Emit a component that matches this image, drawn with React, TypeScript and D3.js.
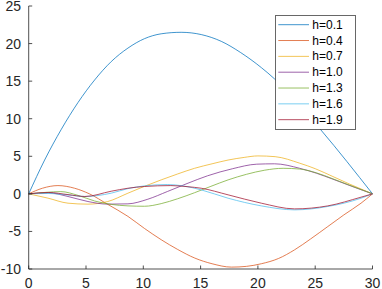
import React from "react";
import * as d3 from "d3";

const labels = ["h=0.1", "h=0.4", "h=0.7", "h=1.0", "h=1.3", "h=1.6", "h=1.9"];
const colors = ["#0072BD", "#D95319", "#EDB120", "#7E2F8E", "#77AC30", "#4DBEEE", "#A2142F"];

const h01X = [0, 1.39, 2.85, 4.3, 5.75, 7.2, 8.66, 10.1, 11.56, 13.3, 15.05, 16.8, 18.5, 20.3, 21.45, 23.5, 25.5, 30];
const h01Y = [0, 4.5, 8.6, 12.15, 15.15, 17.6, 19.4, 20.65, 21.3, 21.5, 21.2, 20.3, 18.8, 16.8, 15.3, 12.0, 8.5, 0];

const h04X = [0, 1.2, 2.55, 4, 5.3, 6.9, 8.66, 10.1, 11.56, 13, 14.5, 16, 17.7, 19, 20.3, 21.8, 23.2, 24.6, 26.1, 27.5, 29, 30];
const h04Y = [0, 0.75, 1.1, 0.75, 0, -1.4, -3.0, -4.6, -6.1, -7.4, -8.55, -9.3, -9.75, -9.65, -9.3, -8.6, -7.45, -6.0, -4.35, -2.8, -1.24, 0];

const h07X = [0, 1.68, 3.43, 5.17, 6.9, 8.66, 10.1, 11.56, 13, 14.47, 16, 17.4, 18.8, 20, 21.5, 23.65, 25, 26.55, 28, 30];
const h07Y = [0, -0.57, -1.24, -1.37, -1.02, 0.09, 1.0, 1.86, 2.65, 3.4, 4.0, 4.5, 4.85, 5.05, 4.95, 4.08, 3.35, 2.3, 1.3, 0];

const h10X = [0, 1.68, 3.43, 5.17, 6.9, 8.66, 10.4, 12.1, 13.9, 15.6, 17.8, 19.9, 21.45, 23.65, 25.1, 26.55, 28.2, 30];
const h10Y = [0, 0.15, -0.35, -1.02, -1.37, -1.33, -0.71, 0.31, 1.42, 2.4, 3.35, 3.95, 4.0, 3.4, 2.75, 1.95, 1.0, 0];

const h13X = [0, 1.5, 2.8, 4.3, 5.75, 7.2, 8.66, 10.1, 11.56, 13, 14.47, 15.9, 17.4, 19, 20.6, 22.2, 23.65, 25.1, 26.55, 28, 30];
const h13Y = [0, 0.2, 0.3, -0.2, -0.95, -1.4, -1.6, -1.65, -1.3, -0.65, 0.15, 1.0, 1.86, 2.6, 3.15, 3.4, 3.3, 2.8, 2.0, 1.15, 0];

const h16X = [0, 1.68, 3.43, 4.9, 7.2, 8.66, 10.1, 12.1, 13.5, 15.05, 17.4, 20.3, 23.2, 26.1, 29, 30];
const h16Y = [0, 0.05, -0.15, -0.35, 0.09, 0.7, 1.06, 1.24, 1.05, 0.53, -0.58, -1.6, -2.13, -1.68, -0.58, 0];

const h19X = [0, 1.74, 3.43, 4.9, 7.2, 8.66, 10.1, 12.4, 13.9, 15.05, 17.4, 20.3, 23.2, 26.1, 29, 30];
const h19Y = [0, 0.18, -0.1, -0.35, 0.35, 0.75, 0.98, 1.1, 0.95, 0.75, -0.13, -1.24, -2.0, -1.6, -0.44, 0];

const seriesX = [h01X, h04X, h07X, h10X, h13X, h16X, h19X];
const seriesY = [h01Y, h04Y, h07Y, h10Y, h13Y, h16Y, h19Y];

const xTicks = [0, 5, 10, 15, 20, 25, 30];
const yTicks = [-10, -5, 0, 5, 10, 15, 20, 25];

const W = 382;
const H = 289;
const FONT = "'Liberation Sans', Arial, Helvetica, sans-serif";
const AX = "#262626";

export default function App() {
  const x = d3.scaleLinear().domain([0, 30]).range([28.7, 372.5]);
  const y = d3.scaleLinear().domain([-10, 25]).range([269, 6]);
  const line = d3
    .line<[number, number]>()
    .x((d) => x(d[0]))
    .y((d) => y(d[1]))
    .curve(d3.curveMonotoneX);

  const lx0 = 275.5, ly0 = 15.5, lw = 80, lh = 114;
  const rowY = (i: number) => 24.7 + i * 15.83;

  return (
    <svg
      width={W}
      height={H}
      style={{ position: "absolute", left: 0, top: 0, background: "#fff" }}
      fontFamily={FONT}
    >
      <rect x={0} y={0} width={W} height={H} fill="#fff" />
      {seriesX.map((xs, i) => {
        const pts: [number, number][] = xs.map((v, j) => [v, seriesY[i][j]]);
        return (
          <path
            key={i}
            d={line(pts) || ""}
            fill="none"
            stroke={colors[i]}
            strokeWidth={1}
            strokeOpacity={0.75}
          />
        );
      })}
      <line x1={x(0)} x2={x(0)} y1={y(25)} y2={y(-10)} stroke={AX} strokeWidth={1} strokeOpacity={0.8} />
      <line x1={x(0)} x2={x(30)} y1={y(-10)} y2={y(-10)} stroke={AX} strokeWidth={1} strokeOpacity={0.8} />
      {yTicks.map((t) => (
        <g key={"y" + t}>
          <line x1={x(0)} x2={x(0) + 3.5} y1={y(t)} y2={y(t)} stroke={AX} strokeWidth={1} strokeOpacity={0.8} />
          <text
            x={21}
            y={y(t)}
            textAnchor="end"
            dominantBaseline="central"
            fontSize={14}
            fill={AX}
          >
            {t}
          </text>
        </g>
      ))}
      {xTicks.map((t) => (
        <g key={"x" + t}>
          <line x1={x(t)} x2={x(t)} y1={y(-10)} y2={y(-10) - 3.5} stroke={AX} strokeWidth={1} strokeOpacity={0.8} />
          <text x={x(t)} y={287.5} textAnchor="middle" fontSize={14} fill={AX}>
            {t}
          </text>
        </g>
      ))}
      <rect x={lx0} y={ly0} width={lw} height={lh} fill="#fff" stroke={AX} strokeWidth={1} strokeOpacity={0.7} />
      {labels.map((lab, i) => (
        <g key={lab}>
          <line
            x1={278.3}
            x2={309}
            y1={rowY(i)}
            y2={rowY(i)}
            stroke={colors[i]}
            strokeWidth={1}
            strokeOpacity={0.75}
          />
          <text x={312.3} y={rowY(i)} dominantBaseline="central" fontSize={12} fill="#000">
            {lab}
          </text>
        </g>
      ))}
    </svg>
  );
}
